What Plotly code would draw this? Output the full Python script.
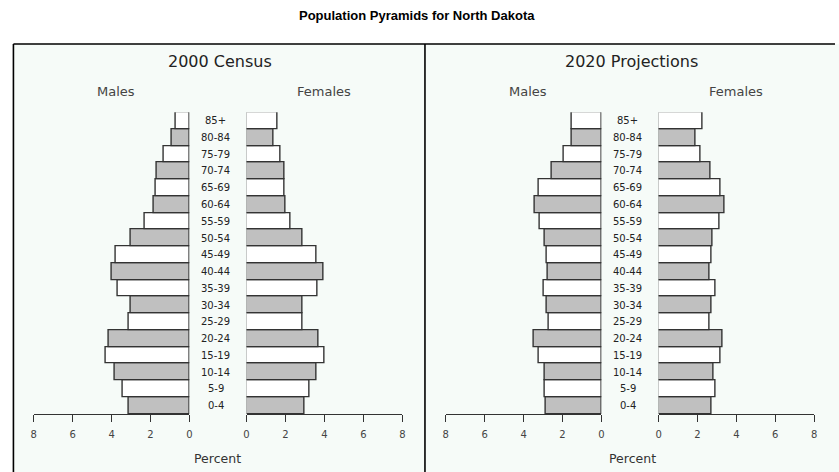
import plotly.graph_objects as go

W, H = 839, 472

age_groups = ["0-4", "5-9", "10-14", "15-19", "20-24", "25-29", "30-34", "35-39",
              "40-44", "45-49", "50-54", "55-59", "60-64", "65-69", "70-74",
              "75-79", "80-84", "85+"]

males_2000 = [3.13, 3.42, 3.83, 4.32, 4.13, 3.13, 3.0, 3.69, 3.98, 3.76,
              3.0, 2.3, 1.84, 1.72, 1.65, 1.3, 0.9, 0.68]
females_2000 = [2.99, 3.25, 3.57, 4.02, 3.69, 2.89, 2.89, 3.66, 3.95, 3.57,
                2.89, 2.24, 1.99, 1.94, 1.94, 1.73, 1.4, 1.6]
males_2020 = [2.86, 2.89, 2.89, 3.2, 3.47, 2.7, 2.81, 2.98, 2.76, 2.81,
              2.89, 3.16, 3.4, 3.23, 2.57, 1.92, 1.53, 1.5]
females_2020 = [2.72, 2.93, 2.84, 3.19, 3.3, 2.6, 2.72, 2.93, 2.6, 2.72,
                2.76, 3.16, 3.4, 3.2, 2.67, 2.16, 1.92, 2.24]

tick_vals = [0, 2, 4, 6, 8]
tick_text = ["0", "2", "4", "6", "8"]

panel_titles = ["2000 Census", "2020 Projections"]
title = "Population Pyramids for North Dakota"

GRAY = "#c0c0c0"
fills = [GRAY if i % 2 == 0 else "#ffffff" for i in range(len(age_groups))]

def px(x):
    return x / W

def py(y):
    return 1 - y / H

fig = go.Figure()

series = [(males_2000, "x"), (females_2000, "x2"), (males_2020, "x3"), (females_2020, "x4")]
for vals, xa in series:
    fig.add_trace(go.Bar(
        x=vals, y=age_groups, orientation="h", xaxis=xa, yaxis="y",
        marker=dict(color=fills, line=dict(color="#333333", width=1.4)),
        showlegend=False, hoverinfo="x+y"))

domains = [(31, 187.7), (245.3, 402.3), (446, 602.7), (660.3, 817)]
font_fam = "DejaVu Sans"
axis_common = dict(
    tickmode="array", tickvals=tick_vals, ticktext=tick_text,
    ticks="outside", ticklen=7, tickwidth=1.3, tickcolor="#333333",
    showline=True, linecolor="#333333", linewidth=1.4,
    showgrid=False, zeroline=False, anchor="y",
    tickfont=dict(family=font_fam, size=10, color="#444444"),
    ticklabelstandoff=4, fixedrange=True,
)
layout_axes = {}
for i, (a, b) in enumerate(domains):
    name = "xaxis" if i == 0 else f"xaxis{i+1}"
    rng = [8, 0] if i % 2 == 0 else [0, 8]
    layout_axes[name] = dict(axis_common, domain=[px(a), px(b)], range=rng)

fig.update_layout(**layout_axes)
fig.update_layout(
    yaxis=dict(domain=[py(414), py(112.3)], range=[-0.5, 17.5], visible=False,
               type="category", categoryorder="array", categoryarray=age_groups,
               anchor="x", fixedrange=True),
    bargap=0,
    width=W, height=H,
    margin=dict(l=0, r=0, t=0, b=0),
    paper_bgcolor="#ffffff", plot_bgcolor="rgba(0,0,0,0)",
)

shapes = []
shapes.append(dict(type="rect", xref="paper", yref="paper", x0=px(10.5), x1=px(425),
                   y0=py(480), y1=py(44), fillcolor="#f6fbf8", line=dict(width=0), layer="below"))
shapes.append(dict(type="rect", xref="paper", yref="paper", x0=px(425), x1=px(845),
                   y0=py(480), y1=py(44), fillcolor="#f6fbf8", line=dict(width=0), layer="below"))
shapes.append(dict(type="line", xref="paper", yref="paper", x0=px(10.5), x1=px(838),
                   y0=py(44), y1=py(44), line=dict(color="#000000", width=1.6)))
for xv in (10.5, 425):
    shapes.append(dict(type="line", xref="paper", yref="paper", x0=px(xv), x1=px(xv),
                       y0=py(44), y1=py(480), line=dict(color="#000000", width=1.6)))
fig.update_layout(shapes=shapes)

ann = []
ann.append(dict(text=f"<b>{title}</b>", x=px(416.7), y=py(15), xref="paper", yref="paper",
                showarrow=False, font=dict(family="Liberation Sans, Arial", size=13, color="#000000"),
                xanchor="center", yanchor="middle"))
centers = [219, 633.3]
males_x = [114, 529]
females_x = [323, 738.7]
label_x = [214.3, 629.3]
percent_x = [216.5, 634]
for p in range(2):
    ann.append(dict(text=panel_titles[p], x=px(centers[p]), y=py(62), xref="paper", yref="paper",
                    showarrow=False, font=dict(family=font_fam, size=16, color="#222222"),
                    xanchor="center", yanchor="middle"))
    ann.append(dict(text="Males", x=px(males_x[p]), y=py(91), xref="paper", yref="paper",
                    showarrow=False, font=dict(family=font_fam, size=13, color="#444444"),
                    xanchor="center", yanchor="middle"))
    ann.append(dict(text="Females", x=px(females_x[p]), y=py(91), xref="paper", yref="paper",
                    showarrow=False, font=dict(family=font_fam, size=13, color="#444444"),
                    xanchor="center", yanchor="middle"))
    ann.append(dict(text="Percent", x=px(percent_x[p]), y=py(458), xref="paper", yref="paper",
                    showarrow=False, font=dict(family=font_fam, size=12.5, color="#333333"),
                    xanchor="center", yanchor="middle"))
    for g in age_groups:
        ann.append(dict(text=g, x=px(label_x[p]), y=g, xref="paper", yref="y",
                        showarrow=False, font=dict(family=font_fam, size=10, color="#222222"),
                        xanchor="center", yanchor="middle"))
fig.update_layout(annotations=ann)

fig.write_html("out.html", config={"displayModeBar": False},
               post_script="document.body.style.margin='0';document.body.style.overflow='hidden';")
